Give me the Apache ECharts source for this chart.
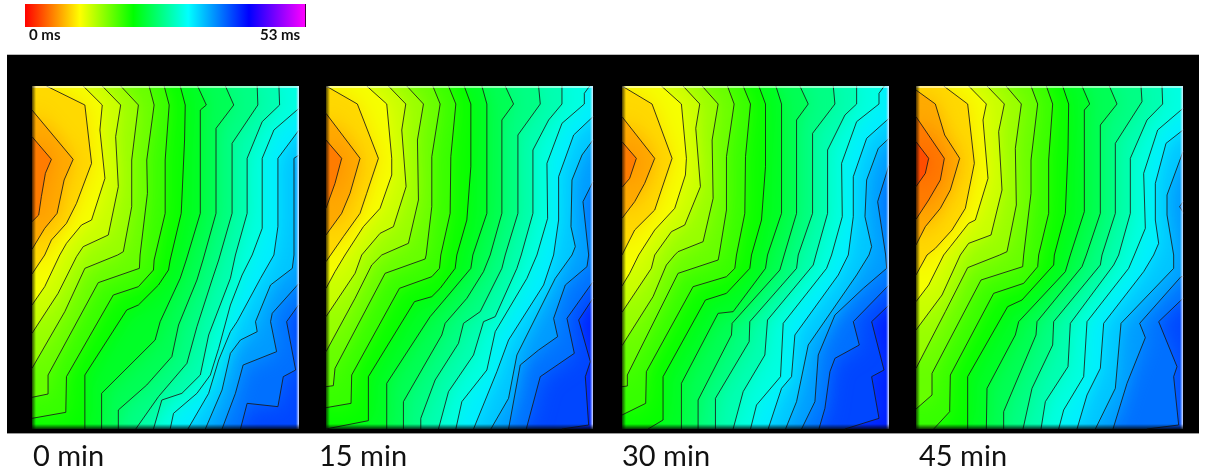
<!DOCTYPE html>
<html><head><meta charset="utf-8">
<script src="https://cdn.jsdelivr.net/npm/echarts@6/dist/echarts.min.js"></script>
<style>html,body{margin:0;background:#fff}#c{width:1205px;height:476px}</style></head>
<body><div id="c"></div>
<script>
// Activation-time isochrones. Each line is x,y,x,y... along one contour.
const panelLabels = ['0 min', '15 min', '30 min', '45 min'];
const scaleLabels = ['0 ms', '53 ms'];
const maxMs = 53;
const colorStops = [[0, '#ff0000'], [0.196, '#ffff00'], [0.387, '#00ff00'], [0.583, '#00ffff'], [0.8, '#0000ff'], [1, '#ff00ff']];
const firstLevelMs = [6, 6, 6, 4.1];
const levelStepMs = 1.9;

const contours0 = [
[22,170,80,238,62,280,50,350,42,405,22,425],
[22,90,145,238,118,300,97,400,60,445,22,508],
[65,18,180,75,200,250,155,370,125,430,80,480,60,525,22,582],
[175,18,232,75,225,150,240,295,200,420,170,435,125,490,105,525,60,620,22,675],
[232,18,287,75,272,170,280,320,250,465,175,500,155,530,100,640,22,760],
[287,18,340,75,320,240,320,380,295,515,278,525,180,565,120,695,22,865],
[372,18,387,75,365,240,367,340,345,525,343,565,220,608,70,885,70,942,22,952],
[417,18,432,75,420,240,420,400,387,540,385,570,340,620,265,645,125,890,123,997,22,1015],
[465,18,480,75,478,180,468,400,435,540,430,570,400,615,340,675,305,690,180,885,180,1047],
[517,18,543,75,525,90,525,400,483,540,465,595,405,725,390,780,230,940,230,1047],
[600,18,625,75,572,145,572,400,533,540,515,600,460,735,440,830,365,915,280,990,280,1047],
[695,18,697,75,620,190,620,400,580,540,560,600,515,740,485,850,400,950,332,1047],
[760,18,762,75,710,125,665,235,665,400,630,525,615,595,550,765,525,885,470,940,410,960,385,1047],
[820,85,745,150,710,235,710,445,680,525,650,585,615,675,580,805,555,885,515,940,445,1000,435,1047],
[820,150,757,235,757,440,745,525,705,595,635,725,615,755,580,840,550,940,488,1047],
[820,225,805,235,805,525,800,565,735,615,690,725,695,755,645,780,615,820,590,930,540,1047],
[820,610,740,700,735,725,753,815,653,855,630,940,590,1047],
[820,673,783,725,810,870,773,890,757,980,665,970,645,1047]
];
const contours15 = [
[18,180,65,235,45,310,18,385],
[18,100,120,235,90,340,65,400,18,465],
[18,18,112,72,175,235,140,340,120,400,70,470,18,545],
[140,18,200,72,215,235,215,285,180,385,130,440,75,525,45,575,18,625],
[205,18,257,72,245,150,258,320,220,440,180,460,125,525,105,580,18,710],
[260,18,310,72,292,180,295,360,265,490,185,525,155,555,105,655,18,815],
[338,18,360,72,335,230,335,380,318,525,315,537,195,580,45,865,40,917,18,920],
[385,18,407,72,392,230,390,400,362,525,358,565,335,590,238,625,95,885,93,970,18,983],
[432,18,452,72,452,260,440,420,410,525,405,565,360,625,335,650,283,665,145,890,145,1022,18,1047],
[485,18,500,72,500,400,458,525,452,565,385,645,330,710,200,910,200,1047],
[555,18,580,72,545,120,545,400,510,525,490,575,440,655,375,730,365,765,250,965,250,1047],
[655,18,660,72,593,165,593,400,555,525,545,565,480,695,430,730,415,790,345,900,302,1015,302,1047],
[725,18,725,72,685,120,638,210,638,400,603,525,590,565,525,710,490,725,460,825,385,935,355,1047],
[808,18,792,40,792,72,725,130,680,250,682,415,650,525,620,595,525,755,500,870,425,965,407,1047],
[818,110,760,165,715,290,715,420,700,525,670,615,565,780,530,875,460,1047],
[818,180,785,225,755,300,752,440,765,500,755,525,705,595,635,735,590,825,565,955,512,1047],
[818,305,788,365,805,525,800,560,735,615,700,715,712,770,655,810,600,855,565,1047],
[818,605,740,715,762,820,660,890,618,1047],
[818,655,775,720,810,845,795,890,805,1035,725,1047]
];
const contours30 = [
[22,185,65,235,45,295,22,322],
[22,110,120,235,90,310,60,365,22,415],
[22,18,112,72,172,235,140,330,120,390,60,450,22,525],
[140,18,200,72,215,235,212,285,180,385,120,450,72,525,45,580,22,618],
[205,18,255,72,243,145,257,320,210,435,170,455,120,525,110,565,22,697],
[262,18,310,72,292,180,295,355,265,485,190,515,180,525,155,555,115,650,22,797],
[338,18,358,72,335,230,335,390,313,525,310,540,190,580,38,885,38,918,22,920],
[385,18,407,72,392,230,390,400,365,525,360,565,335,590,235,620,95,875,93,970,22,1005],
[432,18,452,72,452,260,440,420,410,525,405,565,335,640,272,660,145,890,145,1020,100,1047],
[483,18,500,72,500,400,458,525,452,565,355,695,310,700,200,910,200,1047],
[555,18,580,72,545,120,545,400,508,525,495,570,352,730,350,765,250,960,250,1047],
[655,18,660,72,593,160,593,400,550,525,545,565,405,725,403,785,302,955,302,1047],
[725,18,725,72,690,105,638,210,638,400,603,525,595,555,458,720,450,825,385,935,355,1047],
[808,18,792,40,792,72,725,125,680,250,682,410,650,525,635,565,505,730,497,890,425,975,407,1047],
[822,115,755,175,715,290,715,410,700,525,670,585,540,765,530,890,500,925,460,1047],
[822,175,790,205,755,300,750,410,770,500,762,525,725,585,580,795,545,965,512,1047],
[822,255,788,365,812,525,815,565,745,625,660,705,610,825,600,965,560,1047],
[822,615,715,725,733,795,660,835,645,875,630,985,612,1047],
[822,675,770,725,807,870,770,890,792,1015,690,1047]
];
const contours45 = [
[17,185,55,235,45,280,17,320],
[17,110,102,235,90,300,55,360,17,418],
[17,30,75,72,103,165,148,235,120,330,90,385,45,440,17,495],
[100,18,172,72,192,250,165,385,125,450,75,505,50,525,17,585],
[175,18,228,72,218,120,233,295,195,420,175,430,120,500,100,525,55,615,17,665],
[230,18,282,72,265,155,275,330,242,465,175,490,150,525,95,645,17,750],
[287,18,333,72,315,205,318,375,290,515,268,525,172,563,105,695,17,865],
[362,18,382,72,362,240,362,340,340,525,337,560,212,600,65,880,65,945,17,987],
[408,18,427,72,415,240,415,400,385,525,382,560,340,610,250,640,120,885,118,995,70,1047],
[457,18,475,72,473,210,465,400,432,525,430,555,335,660,292,680,172,890,172,1047],
[515,18,538,72,522,90,522,395,480,525,465,575,325,725,315,765,230,925,228,1047],
[597,18,620,72,570,135,570,400,528,525,515,560,380,725,377,765,280,995,280,1047],
[692,18,695,65,615,190,615,400,575,525,570,555,430,725,427,795,365,925,338,1047],
[755,18,757,72,710,120,660,235,660,400,625,525,610,555,480,730,473,860,405,965,392,1047],
[818,85,742,150,700,280,705,445,672,525,655,565,530,725,520,890,460,990,445,1047],
[818,150,767,190,735,310,735,420,745,490,730,525,700,575,580,730,570,865,530,945,500,1047],
[818,215,770,345,770,405,790,525,790,565,632,730,615,925,555,1047],
[818,365,808,380,840,432,840,590,812,590,688,730,705,773,650,910,608,1047],
[818,655,745,725,800,860,790,890,805,1035,710,1047]
];
const panelContours = [contours0, contours15, contours30, contours45];
// Sensor-coordinate extent of each map
const xExtents = [[22, 820], [18, 818], [22, 822], [17, 818]];
const yExtent = [18, 1047];

// Layout
const rects = [
  {left: 32, width: 267},
  {left: 326, width: 267},
  {left: 622, width: 267},
  {left: 916, width: 267}
];
const mapTop = 86, mapHeight = 343;
const labelX = [33, 319, 622, 919];

function msColor(ms) {
  const t = Math.min(1, Math.max(0, ms / maxMs));
  for (let i = 1; i < colorStops.length; i++) {
    if (t <= colorStops[i][0]) {
      const a = colorStops[i - 1], b = colorStops[i];
      return echarts.color.lerp((t - a[0]) / (b[0] - a[0]), [a[1], b[1]]);
    }
  }
  return colorStops[colorStops.length - 1][1];
}
function toPairs(flat, xMax) {
  const pts = [];
  for (let i = 0; i < flat.length; i += 2) pts.push([flat[i], flat[i + 1]]);
  // A contour that enters from the right edge has everything above it on its early side.
  if (pts[0][0] >= xMax - 1 && pts[0][1] > yExtent[0]) {
    pts.unshift([xMax + 40, pts[0][1]]);
    pts.unshift([xMax + 40, yExtent[0] - 5]);
  }
  return pts;
}

const grid = [], xAxis = [], yAxis = [], series = [], graphic = [];
graphic.push({type: 'rect', z: -5, shape: {x: 7, y: 54, width: 1192, height: 380}, style: {fill: '#000'}});
graphic.push({type: 'line', z: -4, shape: {x1: 7, y1: 54.5, x2: 1199, y2: 54.5}, style: {stroke: '#bbb', lineWidth: 1}});
graphic.push({type: 'line', z: -4, shape: {x1: 7, y1: 433.5, x2: 1199, y2: 433.5}, style: {stroke: '#999', lineWidth: 1}});

panelContours.forEach((contours, p) => {
  const r = rects[p];
  const levelOf = i => firstLevelMs[p] + i * levelStepMs;
  grid.push({left: r.left, top: mapTop, width: r.width, height: mapHeight, show: true, borderWidth: 0,
    backgroundColor: msColor(levelOf(contours.length - 1) + levelStepMs - 1)});
  xAxis.push({gridIndex: p, type: 'value', show: false, min: xExtents[p][0], max: xExtents[p][1]});
  yAxis.push({gridIndex: p, type: 'time', show: false, inverse: true, min: yExtent[0], max: yExtent[1]});
  const lines = contours.map(c => toPairs(c, xExtents[p][1]));
  for (let i = lines.length - 1; i >= 0; i--) {
    const col = msColor(levelOf(i) - levelStepMs / 2);
    series.push({type: 'line', xAxisIndex: p, yAxisIndex: p, data: lines[i], symbol: 'none', silent: true,
      z: 2, lineStyle: {width: 0}, 
      areaStyle: {color: col, opacity: 1, origin: 'start', shadowBlur: 22, shadowColor: col}});
  }
  lines.forEach(pts => series.push({type: 'line', xAxisIndex: p, yAxisIndex: p, data: pts, symbol: 'none', silent: true,
    z: 4, lineStyle: {width: 1, color: '#1a1a1a', opacity: 0.85}}));

  // Bevel of each map
  const x0 = r.left, x1 = r.left + r.width, y1 = mapTop + mapHeight;
  graphic.push({type: 'rect', z: 50, shape: {x: x0, y: mapTop, width: r.width, height: 2},
    style: {fill: 'rgba(255,255,255,0.55)'}});
  graphic.push({type: 'rect', z: 50, shape: {x: x1 - 3, y: mapTop, width: 3, height: mapHeight},
    style: {fill: new echarts.graphic.LinearGradient(0, 0, 1, 0, [{offset: 0, color: 'rgba(225,232,255,0)'}, {offset: 1, color: 'rgba(225,232,255,0.95)'}])}});
  graphic.push({type: 'rect', z: 50, shape: {x: x0, y: mapTop, width: 4, height: mapHeight},
    style: {fill: new echarts.graphic.LinearGradient(0, 0, 1, 0, [{offset: 0, color: 'rgba(0,0,0,0.7)'}, {offset: 1, color: 'rgba(0,0,0,0)'}])}});
  graphic.push({type: 'rect', z: 50, shape: {x: x0, y: y1 - 5, width: r.width, height: 5},
    style: {fill: new echarts.graphic.LinearGradient(0, 0, 0, 1, [{offset: 0, color: 'rgba(0,0,0,0)'}, {offset: 1, color: 'rgba(0,0,0,0.8)'}])}});
  graphic.push({type: 'text', z: 50, x: labelX[p], y: 442, style: {text: panelLabels[p], font: '29px Lato', fill: '#111'}});
});

// Colour scale
graphic.push({type: 'rect', z: 50, shape: {x: 25, y: 4, width: 280, height: 23},
  style: {fill: new echarts.graphic.LinearGradient(0, 0, 1, 0, colorStops.map(s => ({offset: s[0], color: s[1]})))}});
graphic.push({type: 'line', z: 51, shape: {x1: 305.5, y1: 4, x2: 305.5, y2: 27}, style: {stroke: '#400040', lineWidth: 1}});
graphic.push({type: 'text', z: 50, x: 29, y: 28, style: {text: scaleLabels[0], font: 'bold 15px Lato', fill: '#111'}});
graphic.push({type: 'text', z: 50, x: 260, y: 28, style: {text: scaleLabels[1], font: 'bold 15px Lato', fill: '#111'}});

const chart = echarts.init(document.getElementById('c'), null, {renderer: 'canvas'});
chart.setOption({animation: false, backgroundColor: '#fff', grid, xAxis, yAxis, series, graphic});
</script></body></html>
